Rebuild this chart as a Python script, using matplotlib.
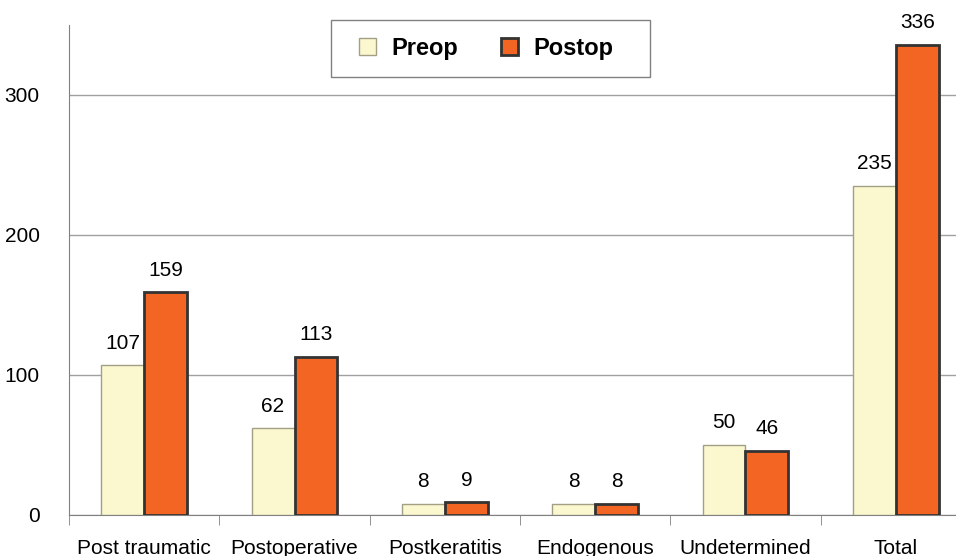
import matplotlib.pyplot as plt
from matplotlib.patches import Rectangle
import numpy as np

plt.rcParams['font.family'] = ['Liberation Sans', 'DejaVu Sans']

categories = ['Post traumatic', 'Postoperative', 'Postkeratitis', 'Endogenous', 'Undetermined', 'Total']
preop = [107, 62, 8, 8, 50, 235]
postop = [159, 113, 9, 8, 46, 336]

fig = plt.figure(figsize=(9.56, 5.56), dpi=100)
ax = fig.add_axes([69 / 956, 1 - 515 / 556, 902 / 956, 490 / 556])

x = np.arange(len(categories))
w = 0.286
b1 = ax.bar(x - w / 2, preop, w, color='#FBF8D0', edgecolor='#A39F85', linewidth=1, label='Preop', zorder=3)
b2 = ax.bar(x + w / 2, postop, w, color='#F26522', edgecolor='#333333', linewidth=2, label='Postop', zorder=3)

for bars, vals in ((b1, preop), (b2, postop)):
    for bar, v in zip(bars, vals):
        ax.text(bar.get_x() + bar.get_width() / 2, v + 9, str(v),
                ha='center', va='bottom', fontsize=15)

ax.set_xlim(-0.5, len(categories) - 0.5)
ax.set_ylim(0, 350)
ax.set_yticks([0, 100, 200, 300])
ax.yaxis.grid(True, color='#A0A0A0', linewidth=1, zorder=0)
ax.tick_params(axis='y', length=0, labelsize=15, pad=21)

ax.set_xticks(x)
ax.set_xticklabels(categories, fontsize=15)
ax.tick_params(axis='x', length=0, pad=17)
ax.set_xticks(np.arange(len(categories)) - 0.5, minor=True)
ax.tick_params(axis='x', which='minor', length=7, color='#808080', direction='out')

for s in ('top', 'right'):
    ax.spines[s].set_visible(False)
ax.spines['left'].set_color('#808080')
ax.spines['bottom'].set_color('#808080')

# legend box drawn by hand so it can be wider than its contents
fig.patches.append(Rectangle((331 / 956, 1 - 77 / 556), 319 / 956, 57 / 556,
                             transform=fig.transFigure, facecolor='white',
                             edgecolor='#808080', linewidth=1, zorder=4))
leg = fig.legend(handles=[b1, b2], loc='center', bbox_to_anchor=(486 / 956, 1 - 48.5 / 556),
                 ncol=2, frameon=False,
                 prop={'weight': 'bold', 'size': 17}, handlelength=0.72, handleheight=0.72,
                 columnspacing=1.8, borderpad=0.75, handletextpad=0.66, borderaxespad=0)
leg.set_zorder(5)

fig.savefig('out.png', dpi=100)
